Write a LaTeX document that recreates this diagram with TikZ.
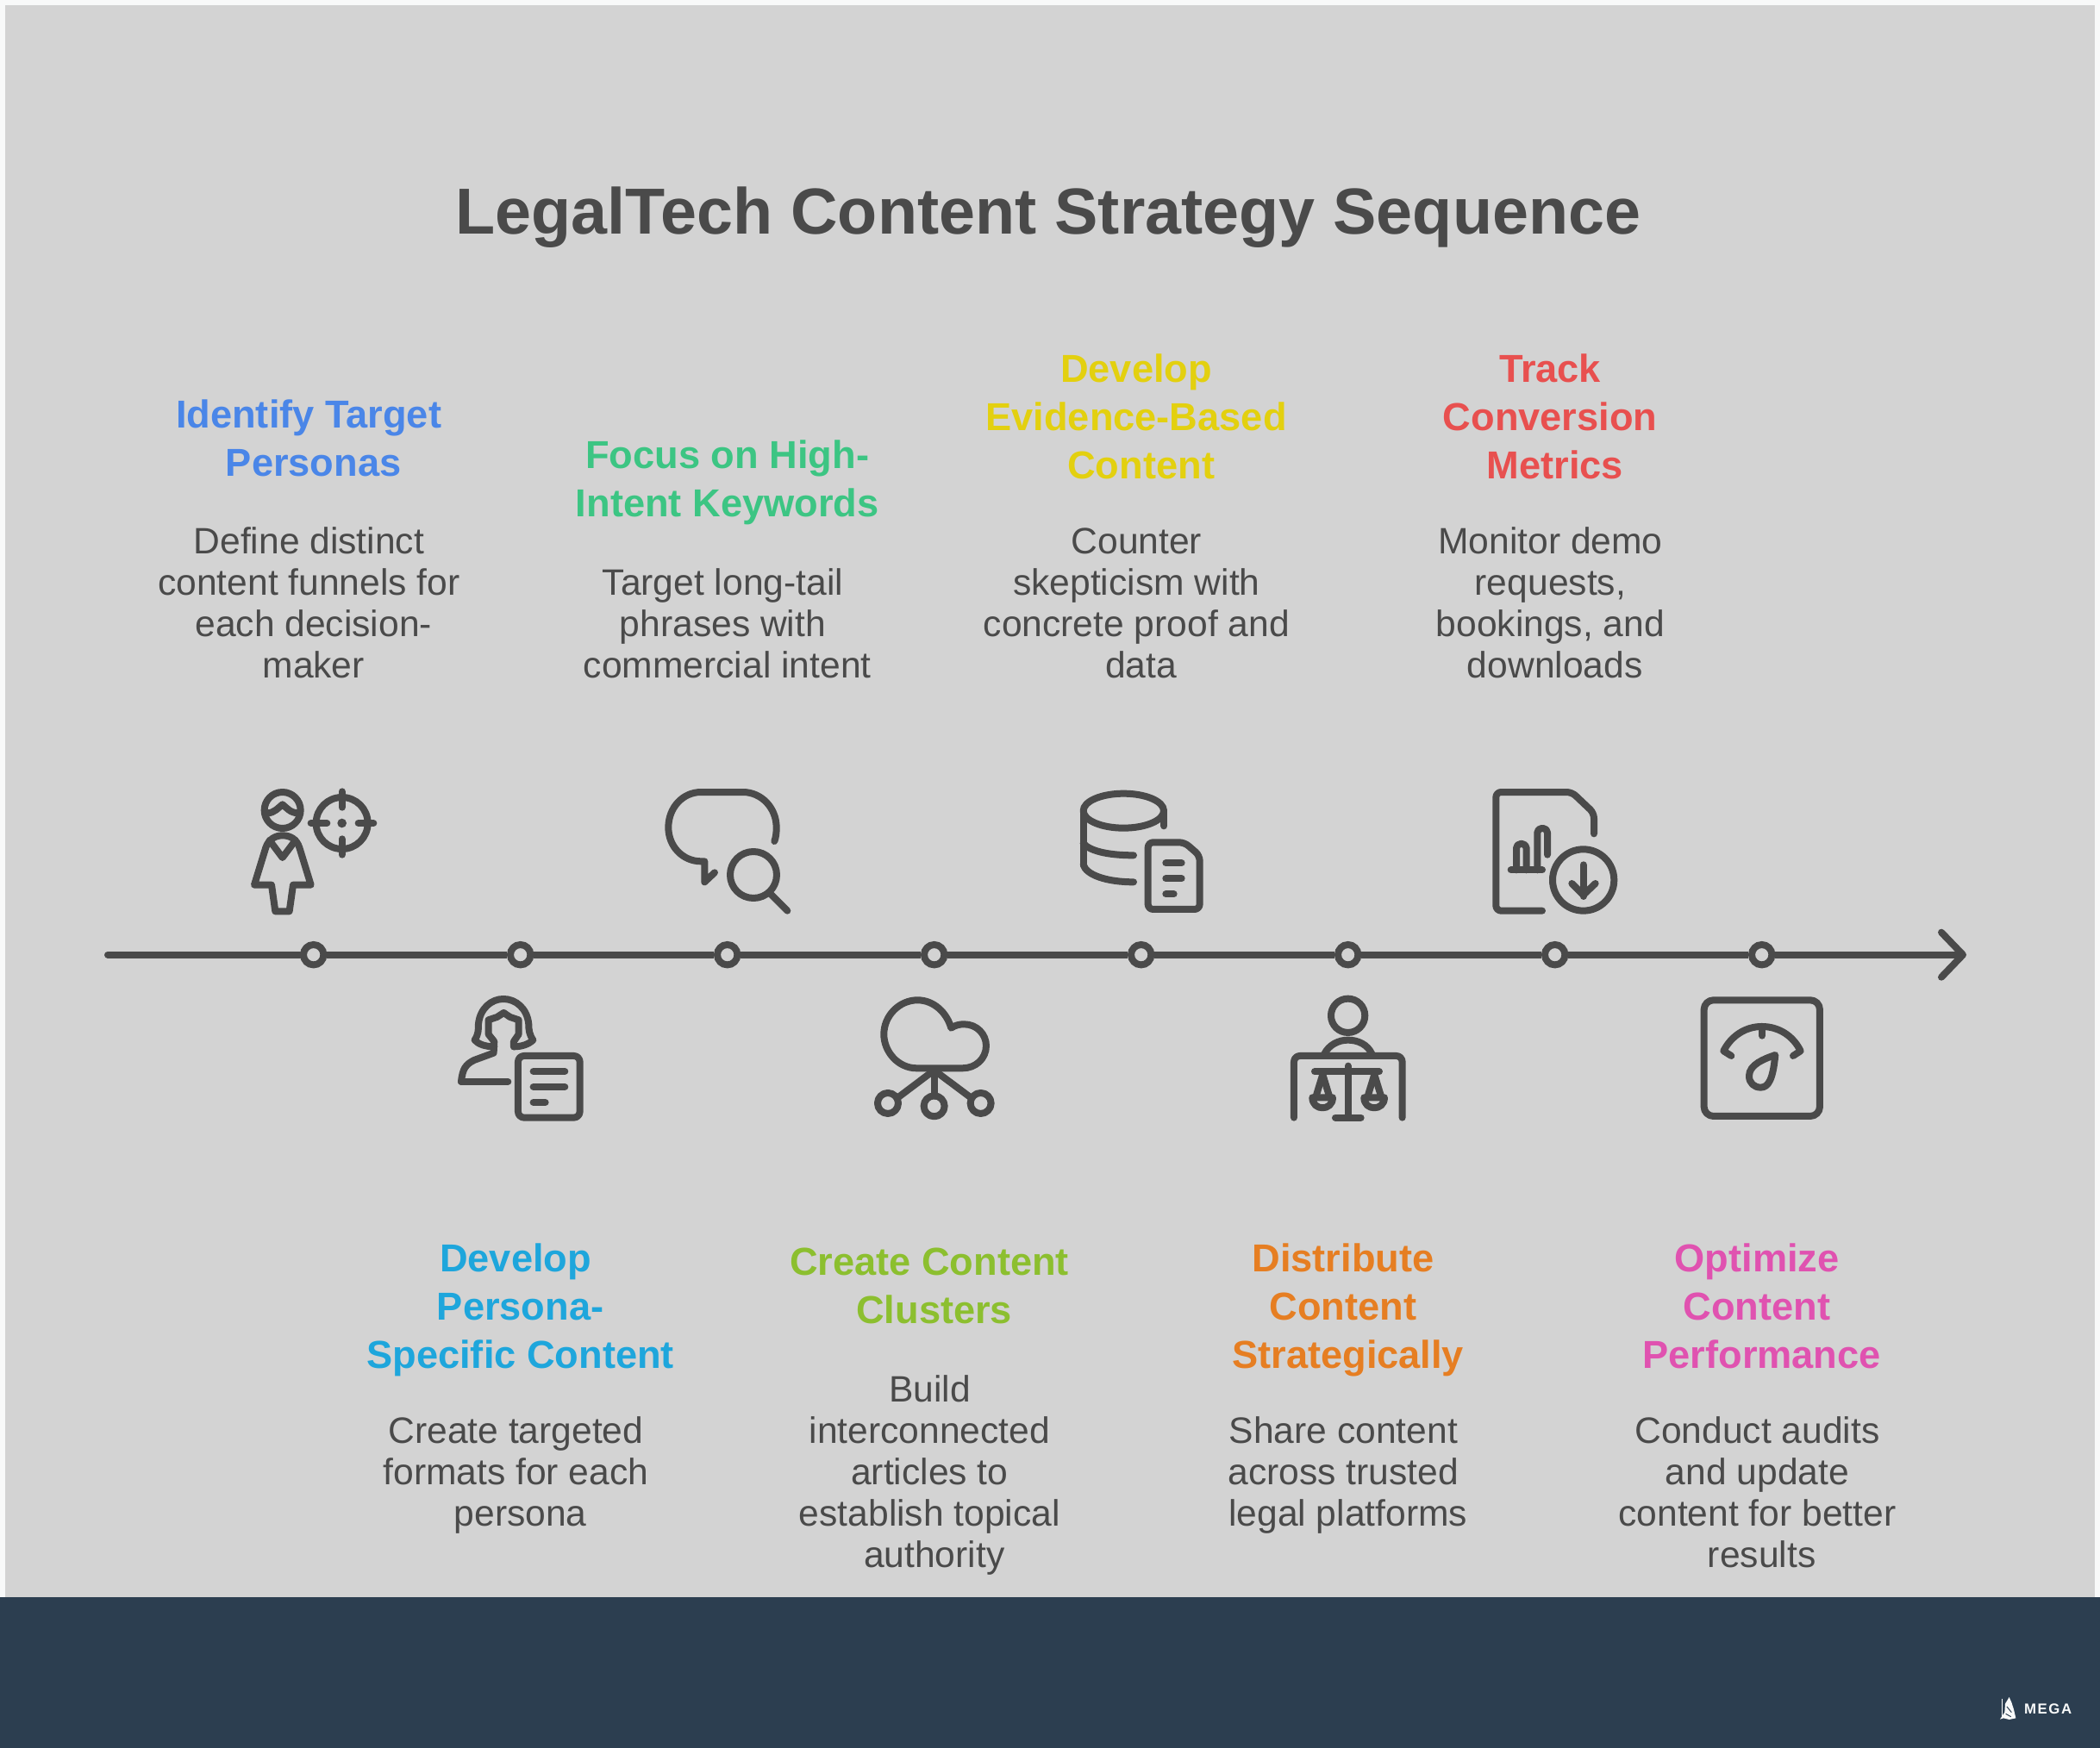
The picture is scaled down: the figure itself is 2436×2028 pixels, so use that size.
\documentclass[tikz,border=0pt]{standalone}
\usepackage{fontspec}
\setmainfont{Liberation Sans}
\usetikzlibrary{arrows.meta}

\definecolor{pagewhite}{HTML}{F8F9F9}
\definecolor{panel}{HTML}{D3D3D3}
\definecolor{navy}{HTML}{2C3E50}
\definecolor{ink}{HTML}{4A4A4A}
\definecolor{hblue}{HTML}{4A86E8}
\definecolor{hcyan}{HTML}{1EA6DC}
\definecolor{hgreen}{HTML}{3CC583}
\definecolor{hlime}{HTML}{8CBF2F}
\definecolor{hyellow}{HTML}{E3D00F}
\definecolor{horange}{HTML}{E67E22}
\definecolor{hred}{HTML}{E8504F}
\definecolor{hpink}{HTML}{E052B0}

\newcommand{\trail}{\kern.25em}

\tikzset{
  head/.style={anchor=base, align=center, inner sep=0, font=\fontsize{45.2}{56}\selectfont\bfseries},
  desc/.style={anchor=base, align=center, inner sep=0, text=ink, font=\fontsize{42.6}{48}\selectfont},
  dot/.style={circle, draw=ink, fill=panel, line width=8pt, inner sep=0, minimum size=23.4pt},
  spine/.style={draw=ink, line width=8pt},
  icon/.style={draw=ink, line width=8pt, line cap=round, line join=round},
  crop/.style={shift={(#1)}, x=.3333pt, y=-.3333pt}
}

\begin{document}
\begin{tikzpicture}[x=1pt, y=-1pt]
\useasboundingbox (0,0) rectangle (2436,2028);
\fill[pagewhite] (0,0) rectangle (2436,2028);
\fill[panel] (6,6) rectangle (2430,1853);
\fill[navy] (0,1853) rectangle (2436,2028);

\node[anchor=base, inner sep=0, text=ink, font=\fontsize{75.5}{88}\selectfont\bfseries] (Title) at (1216,271) {LegalTech Content Strategy Sequence};

% timeline
\coordinate (Start) at (125,1107.7);
\coordinate (End) at (2281,1107.7);
\node[dot] (Dot1) at (363.7,1107.7) {};
\node[dot] (Dot2) at (603.7,1107.7) {};
\node[dot] (Dot3) at (843.7,1107.7) {};
\node[dot] (Dot4) at (1083.7,1107.7) {};
\node[dot] (Dot5) at (1323.7,1107.7) {};
\node[dot] (Dot6) at (1563.7,1107.7) {};
\node[dot] (Dot7) at (1803.7,1107.7) {};
\node[dot] (Dot8) at (2043.7,1107.7) {};
\draw[spine, line cap=round] (Start) -- (Dot1);
\draw[spine] (Dot1) -- (Dot2);
\draw[spine] (Dot2) -- (Dot3);
\draw[spine] (Dot3) -- (Dot4);
\draw[spine] (Dot4) -- (Dot5);
\draw[spine] (Dot5) -- (Dot6);
\draw[spine] (Dot6) -- (Dot7);
\draw[spine] (Dot7) -- (Dot8);
\draw[spine, -{Straight Barb[length=25pt, width=52pt, round]}] (Dot8) -- (End);

% upper steps
\node[head, text=hblue] (Identify) at (363.7,552) {Identify Target\trail\\Personas};
\node[desc] (IdentifyText) at (363.7,786.5) {Define distinct\trail\\content funnels for\trail\\each decision-\\maker};
\node[head, text=hgreen] (Focus) at (843.7,599) {Focus on High-\\Intent Keywords};
\node[desc] (FocusText) at (843.7,786.5) {Target long-tail\trail\\phrases with\trail\\commercial intent};
\node[head, text=hyellow] (Evidence) at (1323.7,555) {Develop\trail\\Evidence-Based\trail\\Content};
\node[desc] (EvidenceText) at (1323.7,786.5) {Counter\trail\\skepticism with\trail\\concrete proof and\trail\\data};
\node[head, text=hred] (Track) at (1803.7,555) {Track\trail\\Conversion\trail\\Metrics};
\node[desc] (TrackText) at (1803.7,786.5) {Monitor demo\trail\\requests,\trail\\bookings, and\trail\\downloads};

% lower steps
\node[head, text=hcyan] (Persona) at (603.7,1587) {Develop\trail\\Persona-\\Specific Content};
\node[desc] (PersonaText) at (603.7,1770.5) {Create targeted\trail\\formats for each\trail\\persona};
\node[head, text=hlime] (Clusters) at (1083.7,1535) {Create Content\trail\\Clusters};
\node[desc] (ClustersText) at (1083.7,1818.5) {Build\trail\\interconnected\trail\\articles to\trail\\establish topical\trail\\authority};
\node[head, text=horange] (Distribute) at (1563.7,1587) {Distribute\trail\\Content\trail\\Strategically};
\node[desc] (DistributeText) at (1563.7,1770.5) {Share content\trail\\across trusted\trail\\legal platforms};
\node[head, text=hpink] (Optimize) at (2043.7,1587) {Optimize\trail\\Content\trail\\Performance};
\node[desc] (OptimizeText) at (2043.7,1818.5) {Conduct audits\trail\\and update\trail\\content for better\trail\\results};

% icons 1 and 2
\begin{scope}[crop={240,880}]
\draw[icon] (263,180) circle (63);
\draw[icon] (210,190) .. controls (235,190) and (250,170) .. (263,160) .. controls (276,170) and (290,190) .. (318,190);
\draw[icon] (165,440) -- (205,310) .. controls (215,280) and (240,268) .. (263,268) .. controls (290,268) and (312,280) .. (322,310) -- (362,440) -- (300,440) -- (287,532) -- (238,532) -- (225,440) -- cycle;
\draw[icon] (218,285) -- (263,345) -- (308,285);
\draw[icon] (470,225) circle (90);
\draw[icon] (470,115) -- (470,170);
\draw[icon] (470,280) -- (470,335);
\draw[icon] (362,225) -- (418,225);
\draw[icon] (527,225) -- (580,225);
\fill[ink] (470,225) circle (16);
\draw[icon] (1000,1003) .. controls (970,1003) and (945,995) .. (932,980) .. controls (945,960) and (945,945) .. (945,925) .. controls (950,870) and (990,837) .. (1032,837) .. controls (1075,837) and (1115,870) .. (1120,925) .. controls (1120,945) and (1122,960) .. (1135,980) .. controls (1120,995) and (1095,1003) .. (1068,1003);
\draw[icon] (885,1125) -- (1048,1125);
\draw[icon] (885,1125) .. controls (890,1080) and (900,1065) .. (930,1050) -- (998,1025) -- (1000,985) -- (980,960) -- (980,910) -- (1010,900) -- (1033,885) -- (1055,900) -- (1085,910) -- (1085,960) -- (1068,985) -- (1068,1003);
\draw[icon, rounded corners=7pt] (1083,1035) rectangle (1298,1250);
\draw[icon] (1136,1089) -- (1246,1089);
\draw[icon] (1136,1143) -- (1246,1143);
\draw[icon] (1136,1197) -- (1178,1197);
\end{scope}

% icons 3 and 4
\begin{scope}[crop={720,880}]
\draw[icon] (535,288) .. controls (540,275) and (542,260) .. (542,240) .. controls (542,172) and (490,117) .. (425,117) -- (280,117) .. controls (215,117) and (166,172) .. (166,240) .. controls (166,305) and (215,358) .. (280,358) -- (292,358) -- (292,430) -- (327,397);
\draw[icon] (462,405) circle (81);
\draw[icon] (520,470) -- (580,530);
\draw[icon] (1190,1078) -- (1030,1078) .. controls (965,1078) and (916,1020) .. (916,960) .. controls (916,895) and (970,841) .. (1033,841) .. controls (1090,841) and (1135,885) .. (1150,938) .. controls (1165,928) and (1180,925) .. (1195,925) .. controls (1240,925) and (1272,960) .. (1272,1000) .. controls (1272,1045) and (1235,1078) .. (1190,1078) -- cycle;
\draw[icon] (930,1200) circle (36);
\draw[icon] (1091,1210) circle (36);
\draw[icon] (1253,1200) circle (36);
\draw[icon] (1091,1085) -- (965,1180);
\draw[icon] (1091,1085) -- (1091,1175);
\draw[icon] (1091,1085) -- (1218,1180);
\end{scope}

% icons 5 and 6
\begin{scope}[crop={1200,880}]
\draw[icon] (310,182) ellipse (140 and 60);
\draw[icon] (451,182) -- (451,235);
\draw[icon] (170,182) -- (170,370);
\draw[icon] (170,295) .. controls (190,320) and (250,337) .. (345,337);
\draw[icon] (170,370) .. controls (180,405) and (250,430) .. (345,430);
\draw[icon, rounded corners=6pt] (395,292) -- (522,292) -- (575,338) -- (575,525) -- (395,525) -- cycle;
\draw[icon] (457,364) -- (512,364);
\draw[icon] (457,418) -- (512,418);
\draw[icon] (457,472) -- (485,472);
\draw[icon] (1091,895) circle (59);
\draw[icon] (1008,1030) .. controls (1025,995) and (1060,980) .. (1091,980) .. controls (1125,980) and (1160,995) .. (1175,1030);
\draw[icon, rounded corners=7pt] (903,1250) -- (903,1035) -- (1280,1035) -- (1280,1250);
\draw[icon] (975,1090) -- (1200,1090);
\draw[icon] (1091,1070) -- (1091,1250);
\draw[icon] (1047,1250) -- (1136,1250);
\draw[icon] (1003,1100) -- (980,1175);
\draw[icon] (1003,1100) -- (1026,1175);
\draw[icon] (967,1180) -- (1038,1180) .. controls (1038,1228) and (967,1228) .. (967,1180) -- cycle;
\draw[icon] (1183,1100) -- (1160,1175);
\draw[icon] (1183,1100) -- (1206,1175);
\draw[icon] (1147,1180) -- (1218,1180) .. controls (1218,1228) and (1147,1228) .. (1147,1180) -- cycle;
\end{scope}

% icons 7 and 8
\begin{scope}[crop={1680,880}]
\draw[icon, rounded corners=6pt] (507,262) -- (507,190) -- (430,117) -- (166,117) -- (166,530) -- (327,530);
\draw[icon] (218,388) -- (327,388);
\draw[icon, rounded corners=5pt] (237,388) -- (237,297) -- (272,297) -- (272,388);
\draw[icon, rounded corners=5pt] (310,388) -- (310,243) -- (345,243) -- (345,335);
\draw[icon] (470,423) circle (107);
\draw[icon] (470,370) -- (470,480);
\draw[icon] (430,435) -- (470,475) -- (512,435);
\draw[icon, rounded corners=11pt] (890,841) rectangle (1293,1245);
\draw[icon] (985,1035) -- (958,1018) .. controls (985,965) and (1035,933) .. (1091,933) .. controls (1150,933) and (1200,965) .. (1226,1018) -- (1200,1035);
\draw[icon] (1092,933) -- (1092,965);
\draw[icon] (1138,1032) .. controls (1100,1045) and (1047,1065) .. (1047,1105) .. controls (1047,1130) and (1065,1145) .. (1087,1145) .. controls (1115,1145) and (1130,1115) .. (1138,1032) -- cycle;
\end{scope}

% footer mark
\begin{scope}[crop={2300,1960}]
\fill[pagewhite] (92,27) -- (100,45) -- (108,70) -- (115,100) -- (92,105) -- (72,100) -- (60,104) -- (76,80) -- (78,50) -- cycle;
\draw[navy, line width=1pt] (84,60) -- (100,80);
\draw[navy, line width=1pt] (80,85) -- (98,95);
\draw[pagewhite, line width=1pt] (66,32) -- (66,100);
\end{scope}
\node[anchor=base west, inner sep=0, text=pagewhite, font=\fontsize{16.8}{20}\selectfont\bfseries\addfontfeature{LetterSpace=9}] (Mega) at (2348,1988) {MEGA};
\end{tikzpicture}
\end{document}
